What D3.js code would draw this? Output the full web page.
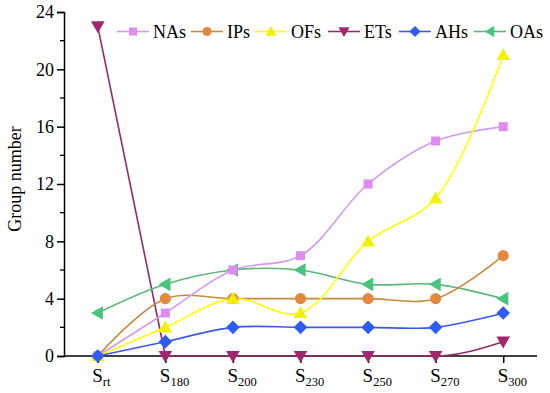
<!DOCTYPE html>
<html>
<head>
<meta charset="utf-8">
<script src="https://cdn.jsdelivr.net/npm/d3@7"></script>
<style>
  html, body { margin: 0; padding: 0; background: #fff; }
  svg { display: block; font-family: "Liberation Serif", "Times New Roman", serif; }
</style>
</head>
<body>
<svg id="chart" width="550" height="393"></svg>
<script>
// ---- data ----
const categories = ["rt", "180", "200", "230", "250", "270", "300"];
const seriesNames = ["NAs", "IPs", "OFs", "ETs", "AHs", "OAs"];
const NAs = [0, 3, 6, 7, 12, 15, 16];
const IPs = [0, 4, 4, 4, 4, 4, 7];
const OFs = [0, 2, 4, 3, 8, 11, 21];
const ETs = [23, 0, 0, 0, 0, 0, 1];
const AHs = [0, 1, 2, 2, 2, 2, 3];
const OAs = [3, 5, 6, 6, 5, 5, 4];
const yTicks = [0, 4, 8, 12, 16, 20, 24];
const yMinorTicks = [2, 6, 10, 14, 18, 22];
const yLabel = "Group number";

// ---- styles ----
const styles = {
  NAs: { line: "#D49AF0", fill: "#DE8CF2", marker: "square" },
  IPs: { line: "#C58B3C", fill: "#E5873E", marker: "circle" },
  OFs: { line: "#FFFF00", fill: "#F2F200", marker: "triUp" },
  ETs: { line: "#8E2C69", fill: "#A0276E", marker: "triDown" },
  AHs: { line: "#3A5AE6", fill: "#2F5CF5", marker: "diamond" },
  OAs: { line: "#5EB679", fill: "#48C47C", marker: "triLeft" }
};
const dataMap = { NAs, IPs, OFs, ETs, AHs, OAs };

const svg = d3.select("#chart");
const x = d3.scalePoint().domain(categories).range([64, 537]).padding(0.5);
const y = d3.scaleLinear().domain([0, 24]).range([356, 12]);

function markerPath(type, size) {
  const s = size;
  switch (type) {
    case "square": return `M${-s/2},${-s/2}h${s}v${s}h${-s}Z`;
    case "circle": return d3.symbol(d3.symbolCircle, s * s * 0.8)();
    case "diamond": { const r = s * 0.62; return `M0,${-r}L${r},0L0,${r}L${-r},0Z`; }
    case "triUp": { const r = s * 0.62; return `M0,${-r}L${r},${r*0.75}L${-r},${r*0.75}Z`; }
    case "triDown": { const r = s * 0.62; return `M0,${r}L${r},${-r*0.75}L${-r},${-r*0.75}Z`; }
    case "triLeft": { const r = s * 0.62; return `M${-r},0L${r*0.75},${-r}L${r*0.75},${r}Z`; }
  }
}

// ---- axes ----
const yAxis = d3.axisLeft(y).tickValues(yTicks).tickSize(7).tickPadding(3).tickFormat(d3.format("d"));
const gy = svg.append("g").attr("transform", "translate(64,0)").call(yAxis);
gy.select(".domain").attr("stroke", "#000").attr("stroke-width", 1.5);
gy.selectAll(".tick line").attr("stroke", "#000").attr("stroke-width", 1.5);
gy.selectAll(".tick text").attr("font-size", 18).attr("font-family", "Liberation Serif").attr("fill", "#000");
gy.selectAll(".minor").data(yMinorTicks).enter().append("line")
  .attr("class", "minor").attr("x1", -4).attr("x2", 0)
  .attr("y1", d => y(d)).attr("y2", d => y(d))
  .attr("stroke", "#000").attr("stroke-width", 1.3);

const xAxis = d3.axisBottom(x).tickSize(7).tickFormat("");
const gx = svg.append("g").attr("transform", "translate(0,356)").call(xAxis);
gx.select(".domain").attr("stroke", "#000").attr("stroke-width", 1.5).attr("d", "M64,0H537");
gx.selectAll(".tick line").attr("stroke", "#000").attr("stroke-width", 1.5);
const xl = svg.append("g").selectAll("text").data(categories).enter().append("text")
  .attr("x", d => x(d) - 5.5).attr("y", 382)
  .attr("font-size", 19).attr("fill", "#000");
xl.append("tspan").text("S");
xl.append("tspan").attr("font-size", 12.5).attr("dy", 4).text(d => d);

svg.append("text")
  .attr("transform", "translate(21,179) rotate(-90)")
  .attr("text-anchor", "middle").attr("font-size", 18).attr("fill", "#000")
  .text(yLabel);

// ---- lines ----
const lineGen = d3.line().x((d, i) => x(categories[i])).y(d => y(d)).curve(d3.curveCatmullRom.alpha(0.5));
const linear = d3.line().x(d => x(d.c)).y(d => y(d.v));
const mono = d3.line().x(d => x(d.c)).y(d => y(d.v)).curve(d3.curveMonotoneX);

const drawOrder = ["ETs", "OAs", "IPs", "NAs", "OFs", "AHs"];
drawOrder.forEach(name => {
  const vals = dataMap[name];
  const st = styles[name];
  if (name === "ETs") {
    const pts = vals.map((v, i) => ({ c: categories[i], v }));
    svg.append("path").attr("d", linear(pts.slice(0, 2))).attr("fill", "none").attr("stroke", st.line).attr("stroke-width", 1.6);
    svg.append("path").attr("d", mono(pts.slice(1))).attr("fill", "none").attr("stroke", st.line).attr("stroke-width", 1.6);
  } else {
    svg.append("path").attr("d", lineGen(vals)).attr("fill", "none").attr("stroke", st.line).attr("stroke-width", 1.6);
  }
});
drawOrder.forEach(name => {
  const vals = dataMap[name];
  const st = styles[name];
  svg.append("g").selectAll("path").data(vals).enter().append("path")
    .attr("transform", (d, i) => `translate(${x(categories[i])},${y(d)})`)
    .attr("d", markerPath(st.marker, st.marker === "square" ? 9 : 11))
    .attr("fill", st.fill);
});

// ---- legend ----
const legendX = [117, 191, 255, 328, 399, 474];
const lg = svg.append("g");
seriesNames.forEach((name, i) => {
  const st = styles[name];
  const g = lg.append("g").attr("transform", `translate(${legendX[i]},31.5)`);
  g.append("line").attr("x1", 0).attr("x2", 32).attr("stroke", st.line).attr("stroke-width", 1.6);
  g.append("path").attr("transform", "translate(16,0)")
    .attr("d", markerPath(st.marker, st.marker === "square" ? 8 : 9)).attr("fill", st.fill);
  g.append("text").attr("x", 36).attr("y", 6).attr("font-size", 18).attr("fill", "#000").text(name);
});
</script>
</body>
</html>
